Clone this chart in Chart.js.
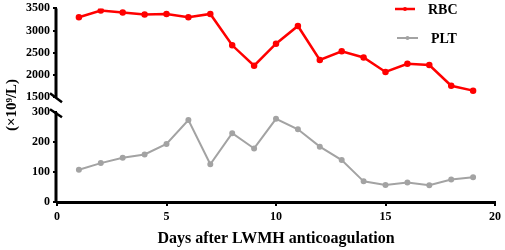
<!DOCTYPE html>
<html>
<head>
<meta charset="utf-8">
<script src="https://cdn.jsdelivr.net/npm/chart.js@4"></script>
<style>
  html, body { margin: 0; padding: 0; background: #fff; }
  #wrap { width: 505px; height: 250px; position: relative; }
</style>
</head>
<body>
<div id="wrap"><canvas id="bloodChart"></canvas></div>
<script>
const days = [1, 2, 3, 4, 5, 6, 7, 8, 9, 10, 11, 12, 13, 14, 15, 16, 17, 18, 19];
const rbcData = [3300, 3450, 3410, 3365, 3375, 3300, 3375, 2670, 2210, 2705, 3105, 2340, 2535, 2395, 2070, 2255, 2225, 1760, 1650];
const pltData = [108, 130, 148, 159, 194, 274, 126, 230, 179, 278, 243, 185, 140, 69, 57, 65, 56, 75, 83];
const pltTicks = [0, 100, 200, 300];
const seriesNames = ['RBC', 'PLT'];
const xTitle = 'Days after LWMH anticoagulation';
const yTitle = '(×10⁹/L)';

const serif = 'Liberation Serif, Times New Roman, serif';

// eigen assen (gebroken y-as), legenda en y-titel
const brokenAxis = {
  id: 'brokenAxis',
  afterDraw(chart) {
    const ctx = chart.ctx;
    const up = chart.scales.yRbc;
    const low = chart.scales.yPlt;
    const x = chart.chartArea.left - 1;
    ctx.save();
    ctx.strokeStyle = '#000';
    ctx.lineWidth = 3;
    ctx.beginPath();
    ctx.moveTo(x, up.getPixelForValue(3500));
    ctx.lineTo(x, up.getPixelForValue(1500));
    ctx.moveTo(x, low.getPixelForValue(300));
    ctx.lineTo(x, low.getPixelForValue(0) + 1);
    ctx.stroke();
    // breekstreepjes
    ctx.lineWidth = 2.5;
    const yb1 = up.getPixelForValue(1500);
    const yb2 = low.getPixelForValue(300);
    ctx.beginPath();
    ctx.moveTo(x - 6, yb1 - 4);
    ctx.lineTo(x + 6, yb1 + 5);
    ctx.moveTo(x - 6, yb2 - 3);
    ctx.lineTo(x + 6, yb2 + 5);
    ctx.stroke();

    // y-titel
    ctx.fillStyle = '#000';
    ctx.font = 'bold 15px ' + serif;
    ctx.textAlign = 'center';
    ctx.textBaseline = 'middle';
    ctx.translate(12, 105);
    ctx.rotate(-Math.PI / 2);
    ctx.fillText(yTitle, 0, 0);
    ctx.restore();

    // legenda
    ctx.save();
    const items = [
      { ds: chart.data.datasets[0], x1: 395, x2: 415, y: 9, tx: 428 },
      { ds: chart.data.datasets[1], x1: 397, x2: 418, y: 38, tx: 431 }
    ];
    items.forEach((it) => {
      ctx.strokeStyle = it.ds.borderColor;
      ctx.fillStyle = it.ds.borderColor;
      ctx.lineWidth = it.ds.borderWidth;
      ctx.beginPath();
      ctx.moveTo(it.x1, it.y);
      ctx.lineTo(it.x2, it.y);
      ctx.stroke();
      ctx.beginPath();
      ctx.arc((it.x1 + it.x2) / 2, it.y, 2, 0, Math.PI * 2);
      ctx.fill();
      ctx.fillStyle = '#000';
      ctx.font = 'bold 14px ' + serif;
      ctx.textAlign = 'left';
      ctx.textBaseline = 'middle';
      ctx.fillText(it.ds.label, it.tx, it.y + 1);
    });
    ctx.restore();
  }
};

const tickFont = { family: serif, size: 12, weight: 'bold' };
const yTickFont = { family: serif, size: 12, weight: 'bold', lineHeight: 0.9 };
const plainLabel = (v) => String(v);

const config = {
  type: 'line',
  data: {
    datasets: [
      {
        label: seriesNames[0],
        data: days.map((d, i) => ({ x: d, y: rbcData[i] })),
        borderColor: '#ff0000',
        backgroundColor: '#ff0000',
        borderWidth: 2.5,
        pointRadius: 2,
        pointHoverRadius: 2,
        tension: 0,
        yAxisID: 'yRbc'
      },
      {
        label: seriesNames[1],
        data: days.map((d, i) => ({ x: d, y: pltData[i] })),
        borderColor: '#a3a3a3',
        backgroundColor: '#a3a3a3',
        borderWidth: 2,
        pointRadius: 2,
        pointHoverRadius: 2,
        tension: 0,
        yAxisID: 'yPlt'
      }
    ]
  },
  options: {
    responsive: true,
    maintainAspectRatio: false,
    animation: false,
    layout: { padding: { top: 0, right: 7, left: 0, bottom: 0 } },
    plugins: {
      legend: { display: false },
      tooltip: { enabled: false }
    },
    scales: {
      x: {
        type: 'linear',
        min: 0,
        max: 20,
        ticks: { stepSize: 5, font: tickFont, color: '#000', padding: 4, maxRotation: 0, callback: plainLabel },
        grid: { drawOnChartArea: false, drawTicks: true, tickLength: 4, lineWidth: 2, color: '#000' },
        border: { display: true, width: 3, color: '#000' },
        title: {
          display: true,
          text: xTitle,
          color: '#000',
          font: { family: serif, size: 16, weight: 'bold' },
          padding: { top: 0, bottom: 2 }
        },
        afterFit(scale) { scale.height = 48; }
      },
      yPlt: {
        type: 'linear',
        position: 'left',
        stack: 'bloed',
        stackWeight: 106,
        min: 0,
        max: 350,
        ticks: { font: yTickFont, color: '#000', padding: 3, autoSkip: false, callback: plainLabel },
        afterBuildTicks(scale) { scale.ticks = pltTicks.map((v) => ({ value: v })); },
        grid: { drawOnChartArea: false, drawTicks: true, tickLength: 4, lineWidth: 2, color: '#000' },
        border: { display: false },
        afterFit(scale) { scale.width = 57; }
      },
      yRbc: {
        type: 'linear',
        position: 'left',
        stack: 'bloed',
        stackWeight: 90,
        min: 1500,
        max: 3500,
        ticks: { stepSize: 500, font: yTickFont, color: '#000', padding: 3, autoSkip: false, callback: plainLabel },
        grid: { drawOnChartArea: false, drawTicks: true, tickLength: 4, lineWidth: 2, color: '#000' },
        border: { display: false },
        afterFit(scale) { scale.width = 57; }
      }
    }
  },
  plugins: [brokenAxis]
};

const myChart = new Chart(document.getElementById('bloodChart'), config);
</script>
</body>
</html>
